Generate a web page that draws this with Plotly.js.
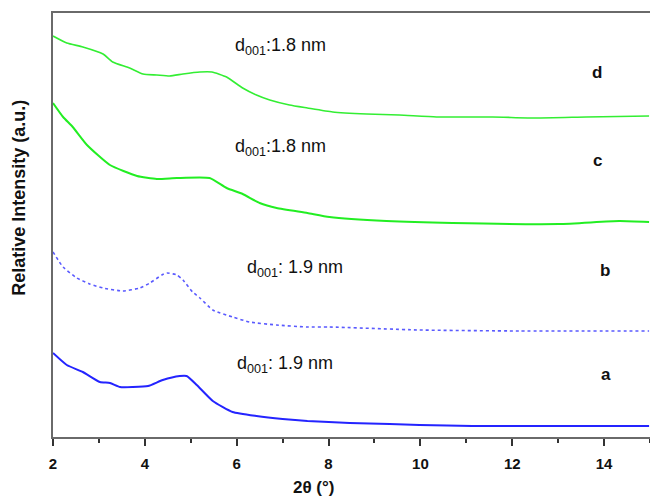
<!DOCTYPE html>
<html>
<head>
<meta charset="utf-8">
<script src="https://cdn.plot.ly/plotly-3.0.1.min.js"></script>
<style>html,body{margin:0;padding:0;background:#fff;}#chart{width:650px;height:496px;}</style>
</head>
<body>
<div id="chart"></div>
<script>
// 2θ (degrees) and relative intensity (a.u.)
const xD = [2.00, 2.30, 2.65, 3.09, 3.30, 3.67, 3.96, 4.26, 4.54, 4.83, 5.20, 5.46, 5.78, 6.13, 6.43, 6.72, 7.15, 7.54, 8.09, 8.83, 9.54, 10.35, 11.57, 12.52, 13.61, 14.98];
const yD = [401, 394, 390, 383, 375, 369, 363, 362, 361, 363, 365, 365, 360, 349, 342, 337, 332, 329, 325, 323, 322, 320, 320, 319, 320, 321];

const xC = [2.00, 2.22, 2.43, 2.74, 3.24, 3.83, 4.26, 4.70, 5.41, 5.78, 6.13, 6.50, 6.87, 7.54, 8.02, 9.26, 10.70, 13.02, 14.33, 14.98];
const yC = [334, 320, 310, 292, 272, 261, 258, 259, 259, 249, 243, 234, 229, 224, 220, 216, 214, 213, 216, 215];

const xB = [2.00, 2.22, 2.52, 2.80, 3.09, 3.52, 3.89, 4.11, 4.37, 4.48, 4.70, 4.83, 5.04, 5.20, 5.48, 5.91, 6.28, 6.87, 7.52, 8.02, 9.98, 12.15, 14.98];
const yB = [185, 170, 159, 153, 149, 146, 149, 154, 162, 164, 162, 157, 145, 139, 127, 120, 115, 112, 110, 110, 107, 106, 106];

const xA = [2.00, 2.30, 2.65, 3.02, 3.24, 3.46, 3.74, 4.07, 4.39, 4.76, 4.91, 5.13, 5.48, 5.91, 6.43, 7.00, 7.54, 8.46, 9.33, 9.98, 11.13, 14.98];
const yA = [84, 72, 65, 55, 54, 50, 50, 51, 57, 61, 61, 52, 36, 25, 21, 18, 16, 14, 13, 12, 11, 11];

const seriesNames = ['a', 'b', 'c', 'd'];
const spacingLabels = ['d<sub>001</sub>: 1.9 nm', 'd<sub>001</sub>: 1.9 nm', 'd<sub>001</sub>:1.8 nm', 'd<sub>001</sub>:1.8 nm'];
const xTicks = [2, 4, 6, 8, 10, 12, 14];

const FONT = 'Liberation Sans, Arial, sans-serif';

const traces = [
  {x: xA, y: yA, name: seriesNames[0], mode: 'lines', line: {color: '#2424ff', width: 2, shape: 'spline', smoothing: 0.5}},
  {x: xB, y: yB, name: seriesNames[1], mode: 'lines', line: {color: '#5a5aff', width: 1.6, dash: 'dot', shape: 'spline', smoothing: 0.5}},
  {x: xC, y: yC, name: seriesNames[2], mode: 'lines', line: {color: '#22ee22', width: 2, shape: 'spline', smoothing: 0.5}},
  {x: xD, y: yD, name: seriesNames[3], mode: 'lines', line: {color: '#33ee33', width: 1.6, shape: 'spline', smoothing: 0.5}}
];

const annotations = [
  // spacing labels
  {x: 5.96, y: 73, xref: 'x', yref: 'y', text: spacingLabels[0], xanchor: 'left', yanchor: 'middle', font: {size: 18}},
  {x: 6.17, y: 169, xref: 'x', yref: 'y', text: spacingLabels[1], xanchor: 'left', yanchor: 'middle', font: {size: 18}},
  {x: 5.91, y: 290, xref: 'x', yref: 'y', text: spacingLabels[2], xanchor: 'left', yanchor: 'middle', font: {size: 18}},
  {x: 5.93, y: 391, xref: 'x', yref: 'y', text: spacingLabels[3], xanchor: 'left', yanchor: 'middle', font: {size: 18}},
  // curve letters
  {x: 14.04, y: 63, xref: 'x', yref: 'y', text: '<b>' + seriesNames[0] + '</b>', font: {size: 17}},
  {x: 14.02, y: 167, xref: 'x', yref: 'y', text: '<b>' + seriesNames[1] + '</b>', font: {size: 17}},
  {x: 13.85, y: 277, xref: 'x', yref: 'y', text: '<b>' + seriesNames[2] + '</b>', font: {size: 17}},
  {x: 13.85, y: 365, xref: 'x', yref: 'y', text: '<b>' + seriesNames[3] + '</b>', font: {size: 17}},
  // axis titles
  {x: 0.438, y: -0.118, xref: 'paper', yref: 'paper', text: '<b>2θ (°)</b>', font: {size: 17}, xanchor: 'center', yanchor: 'middle'},
  {x: -0.057, y: 0.564, xref: 'paper', yref: 'paper', text: '<b>Relative Intensity (a.u.)</b>', font: {size: 18}, textangle: -90, xanchor: 'center', yanchor: 'middle'}
].map(a => Object.assign({showarrow: false}, a, {font: Object.assign({family: FONT, color: '#111', size: 17}, a.font || {})}));

const layout = {
  width: 650, height: 496,
  margin: {l: 53, r: 0, t: 13, b: 59},
  paper_bgcolor: '#fff', plot_bgcolor: '#fff',
  showlegend: false,
  font: {family: FONT, color: '#111'},
  xaxis: {
    range: [2, 15], tickvals: xTicks, ticktext: xTicks.map(String),
    showgrid: false, zeroline: false,
    showline: true, linecolor: '#6a6a6a', linewidth: 2, mirror: true,
    ticks: 'outside', ticklen: 7, tickwidth: 2, tickcolor: '#333',
    minor: {dtick: 1, tick0: 0, ticks: 'outside', ticklen: 4, tickwidth: 2, tickcolor: '#333'},
    tickfont: {family: FONT, size: 15, color: '#111', weight: 'bold'},
    ticklabelstandoff: 5
  },
  yaxis: {
    range: [0, 424], showticklabels: false, ticks: '',
    showgrid: false, zeroline: false,
    showline: true, linecolor: '#6a6a6a', linewidth: 2
  },
  annotations: annotations
};

Plotly.newPlot('chart', traces, layout, {staticPlot: true, displayModeBar: false});
</script>
</body>
</html>
